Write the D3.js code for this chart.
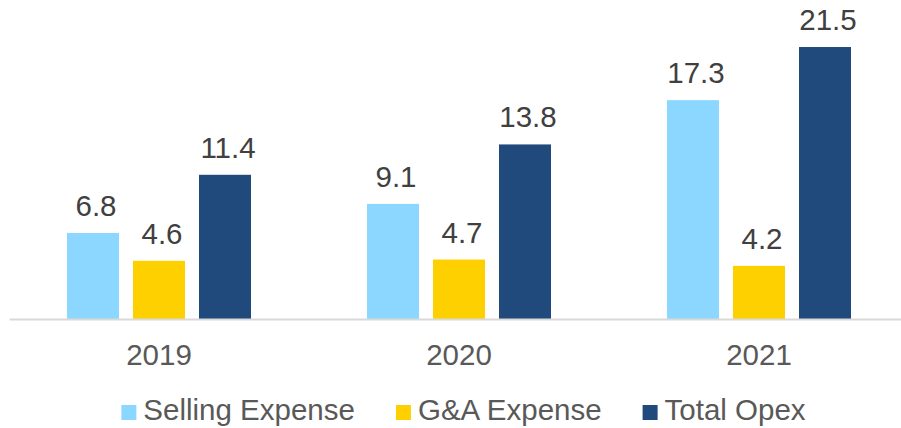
<!DOCTYPE html>
<html>
<head>
<meta charset="utf-8">
<script src="https://cdn.jsdelivr.net/npm/d3@7"></script>
<style>
  html, body { margin: 0; padding: 0; background: #fff; }
  svg { display: block; font-family: "Liberation Sans", Arial, sans-serif; }
</style>
</head>
<body>
<svg id="chart" width="901" height="428"></svg>
<script>
// chart data
const years = ['2019', '2020', '2021'];
const seriesNames = ['Selling Expense', 'G&A Expense', 'Total Opex'];
const sellingExpense = [6.8, 9.1, 17.3];
const gaExpense = [4.6, 4.7, 4.2];
const totalOpex = [11.4, 13.8, 21.5];
const seriesColors = ['#8BD7FF', '#FFD000', '#20497C'];

const seriesValues = [sellingExpense, gaExpense, totalOpex];

const svg = d3.select('#chart');

/* ==================================
Scales
================================== */
const x0 = d3.scaleBand()
  .domain(years)
  .range([9, 909])
  .padding(0);

const x1 = d3.scaleBand()
  .domain(seriesNames)
  .range([58, 242])
  .paddingInner(14 / 66)
  .paddingOuter(0);

const y = d3.scaleLinear()
  .domain([0, 24])
  .range([319, 15.4]);

const color = d3.scaleOrdinal().domain(seriesNames).range(seriesColors);

// flatten into rows for the bars
const rows = [];
years.forEach((yr, i) => {
  seriesNames.forEach((s, j) => {
    rows.push({ year: yr, series: s, value: seriesValues[j][i] });
  });
});

/* ==================================
Bars
================================== */
const barG = svg.append('g');
barG.selectAll('rect')
  .data(rows)
  .enter()
  .append('rect')
  .attr('x', d => x0(d.year) + x1(d.series))
  .attr('y', d => y(d.value))
  .attr('width', x1.bandwidth())
  .attr('height', d => y(0) - y(d.value))
  .style('fill', d => color(d.series));

// value labels
barG.selectAll('text')
  .data(rows)
  .enter()
  .append('text')
  .attr('x', d => x0(d.year) + x1(d.series) + x1.bandwidth() / 2 + 3)
  .attr('y', d => y(d.value) - 17)
  .attr('text-anchor', 'middle')
  .style('font-size', '29.5px')
  .style('fill', '#404040')
  .text(d => d.value.toFixed(1));

/* ==================================
X axis
================================== */
const xAxis = svg.append('g')
  .attr('transform', `translate(0, ${y(0)})`)
  .call(d3.axisBottom(x0).tickSize(0).tickPadding(0));

xAxis.select('.domain')
  .attr('stroke', '#d9d9d9')
  .attr('stroke-width', 2);

xAxis.selectAll('.tick text')
  .attr('dy', null)
  .attr('y', 46)
  .style('font-family', '"Liberation Sans", Arial, sans-serif')
  .style('font-size', '29.5px')
  .style('fill', '#595959');

/* ==================================
Legend
================================== */
const legend = svg.append('g');
const items = legend.selectAll('g')
  .data(seriesNames)
  .enter()
  .append('g');

items.append('rect')
  .attr('y', 405)
  .attr('width', 15)
  .attr('height', 15)
  .style('fill', d => color(d));

items.append('text')
  .attr('x', 22)
  .attr('y', 420)
  .style('font-size', '29.5px')
  .style('fill', '#595959')
  .text(d => d);

// lay out items side by side, centred
let cursor = 0;
const widths = [];
items.each(function () {
  const w = 22 + d3.select(this).select('text').node().getComputedTextLength();
  widths.push(w);
});
const gap = 41;
const total = d3.sum(widths) + gap * (widths.length - 1);
cursor = 463.5 - total / 2;
items.attr('transform', (d, i) => {
  const t = `translate(${cursor}, 0)`;
  cursor += widths[i] + gap;
  return t;
});
</script>
</body>
</html>
